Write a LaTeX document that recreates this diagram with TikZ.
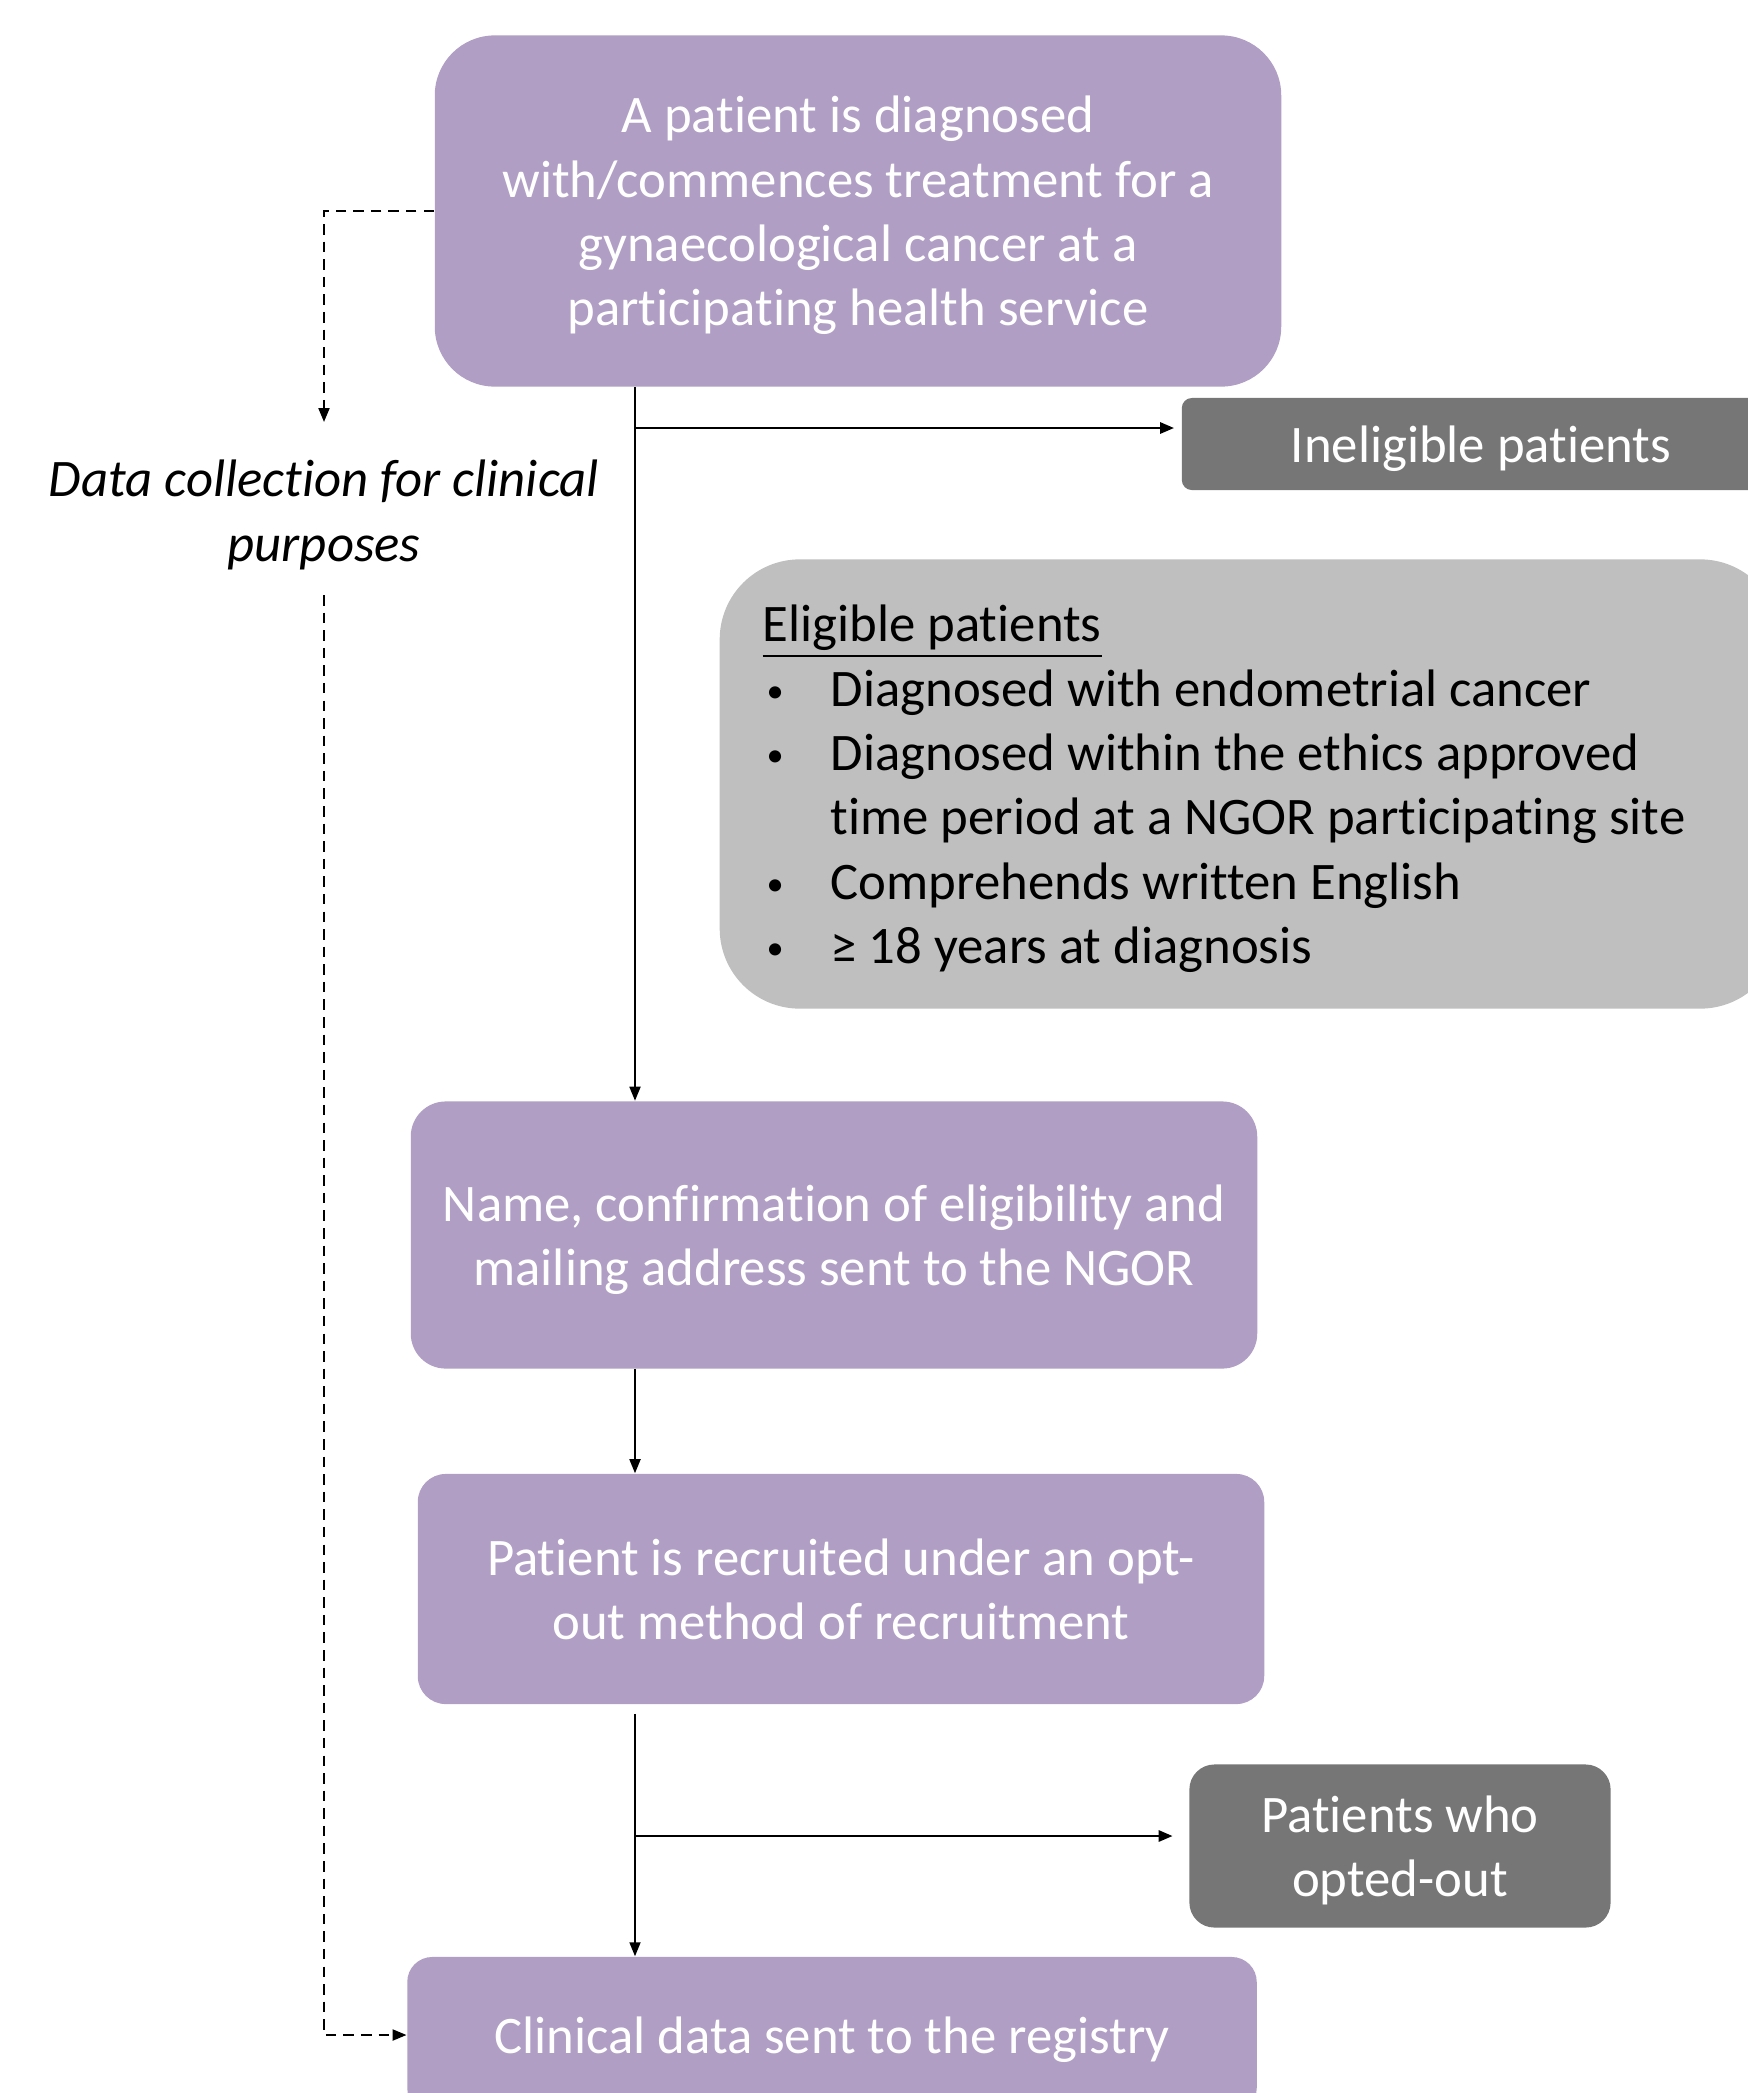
\documentclass[tikz,border=0pt]{standalone}
\usepackage{graphicx}
\usepackage{fontspec}
\setmainfont{Carlito}[Ligatures=NoCommon]
\usetikzlibrary{arrows.meta, positioning}
\definecolor{boxpurple}{RGB}{176,158,196}
\definecolor{boxdark}{RGB}{118,118,118}
\definecolor{boxlight}{RGB}{191,191,191}
\newcommand{\bodyfont}{\fontsize{15}{18.3}\selectfont}
\newcommand{\critbullet}{\hspace*{0.04cm}\makebox[0.64cm][l]{\raisebox{0.08em}{\scalebox{0.65}{\textbullet}}}}

\begin{document}
\begin{tikzpicture}[x=0.01cm, y=-0.01cm,
    stage/.style={rectangle, fill=boxpurple, text=white, align=center, font=\bodyfont, inner sep=0pt, text depth=0pt},
    outbox/.style={rectangle, fill=boxdark, text=white, align=center, font=\bodyfont, inner sep=0pt, text depth=0pt},
    critbox/.style={rectangle, fill=boxlight, rounded corners=0.8cm},
    arrow/.style={-{Triangle[length=1.4mm, width=1.1mm]}, line width=0.5pt},
    sidearrow/.style={-{Triangle[length=1.4mm, width=1.1mm]}, line width=0.8pt},
    dasharrow/.style={-{Triangle[length=1.4mm, width=1.1mm]}, line width=0.6pt, dash pattern=on 3pt off 2pt}
]
\useasboundingbox (0,0) rectangle (1748,2093);
\clip (0,0) rectangle (1748,2093);

% Main pathway
\node[stage, minimum width=8.46cm, minimum height=3.51cm, rounded corners=0.6cm] (diag) at (858,211)
    {A patient is diagnosed\\with/commences treatment for a\\gynaecological cancer at a\\participating health service};
\node[stage, minimum width=8.46cm, minimum height=2.67cm, rounded corners=0.35cm] (name) at (834,1235)
    {Name, confirmation of eligibility and\\mailing address sent to the NGOR};
\node[stage, minimum width=8.46cm, minimum height=2.30cm, rounded corners=0.28cm] (recruit) at (841,1589)
    {Patient is recruited under an opt-\\out method of recruitment};
\node[stage, minimum width=8.49cm, minimum height=1.56cm, rounded corners=0.25cm] (clin) at (832,2035)
    {Clinical data sent to the registry};

% Excluded patients
\node[outbox, minimum width=5.98cm, minimum height=0.92cm, rounded corners=0.1cm] (inel) at (1481,444)
    {Ineligible patients};
\node[outbox, minimum width=4.21cm, minimum height=1.63cm, rounded corners=0.25cm] (opted) at (1400,1846)
    {Patients who\\opted-out};

% Eligibility criteria
\node[critbox, minimum width=10.6cm, minimum height=4.49cm] (elig) at (1250,784) {};
\node[anchor=west, align=left, font=\bodyfont, inner sep=0pt] (eligtext) at (762,789)
    {\underline{Eligible patients}\\
     \critbullet Diagnosed with endometrial cancer\\
     \critbullet Diagnosed within the ethics approved\\
     \hspace*{0.68cm}time period at a NGOR participating site\\
     \critbullet Comprehends written English\\
     \critbullet ≥ 18 years at diagnosis};

% Side route
\node[font=\bodyfont\itshape, align=center] (dc) at (324,515) {Data collection for clinical\\purposes};
\coordinate (dctop) at (324,422);
\coordinate (dcbot) at (324,595);

% Connectors
\coordinate (spine) at (635,0);
\coordinate (fork1) at (635,428);
\coordinate (fork2) at (635,1836);
\draw[arrow] (spine |- diag.south) -- (spine |- name.north);
\draw[sidearrow, shorten >=0.07cm] (fork1) -- (fork1 -| inel.west);
\draw[arrow] (spine |- name.south) -- (spine |- recruit.north);
\draw[arrow, shorten <=0.09cm] (spine |- recruit.south) -- (spine |- clin.north);
\draw[sidearrow, shorten >=0.16cm] (fork2) -- (fork2 -| opted.west);
\draw[dasharrow] (diag.west) -| (dctop);
\draw[dasharrow] (dcbot) |- (clin.west);

\end{tikzpicture}
\end{document}
